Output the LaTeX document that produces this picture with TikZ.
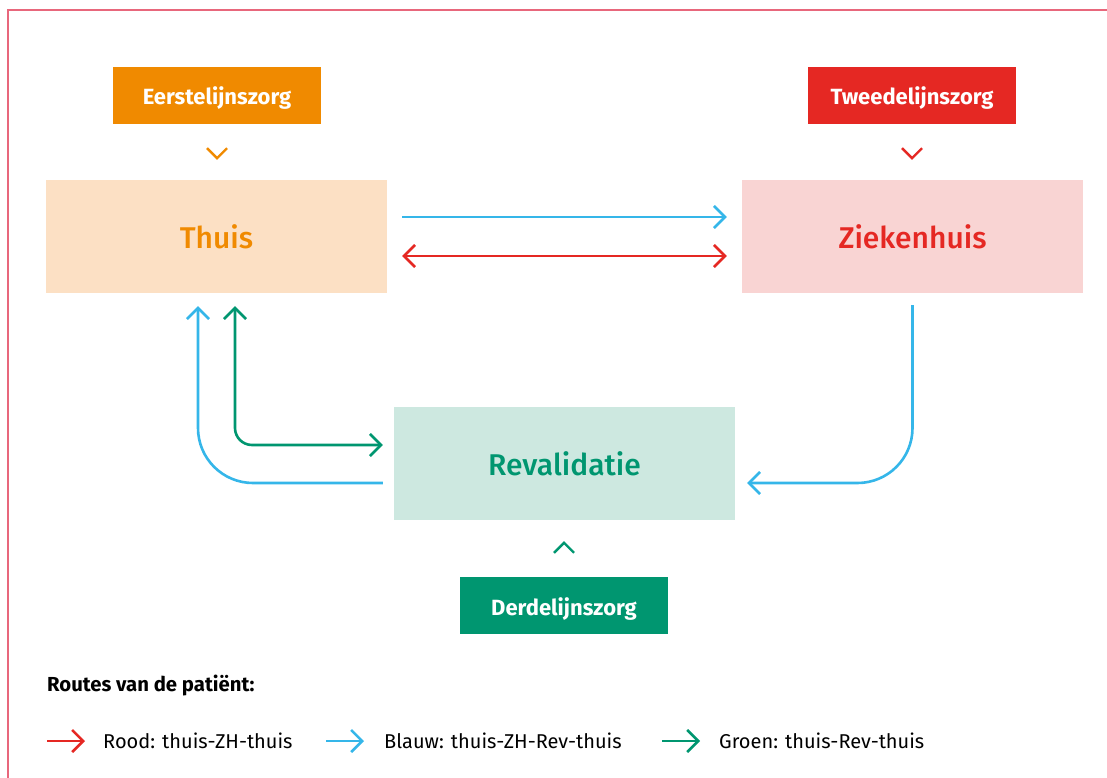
\documentclass[tikz,border=0pt]{standalone}
\usepackage{fontspec}
\setmainfont{Fira Sans}
\newfontfamily\medfont{Fira Sans Medium}
\usetikzlibrary{arrows.meta,calc}
\definecolor{frame}{HTML}{E8677C}
\definecolor{ora}{HTML}{F08A00}
\definecolor{oralight}{HTML}{FCE0C4}
\definecolor{rd}{HTML}{E52823}
\definecolor{rdlight}{HTML}{F9D4D3}
\definecolor{gr}{HTML}{009670}
\definecolor{grlight}{HTML}{CDE8E0}
\definecolor{bl}{HTML}{35B6E9}
\tikzset{
  lbl/.style={minimum width=208pt,minimum height=57pt,inner sep=0pt,text height=22pt,text depth=3pt,text=white,font=\fontsize{22}{24}\selectfont\bfseries},
  place/.style={minimum width=341pt,minimum height=113pt,inner sep=0pt,font=\fontsize{30}{34}\medfont},
  route/.style={line width=2.6pt,-{Straight Barb[length=11pt,width=22pt,line width=2.6pt]}},
  chev/.style={line width=2.4pt},
  legtext/.style={anchor=west,inner sep=0pt,font=\fontsize{20}{23}\selectfont}
}
\begin{document}
\begin{tikzpicture}[x=1pt,y=-1pt]
\useasboundingbox (0,0) rectangle (1107,778);
\draw[frame,line width=1.6pt] (8,778) -- (8,10) -- (1107,10);
% boxes
\node[lbl,fill=ora] (eerste) at (217,95.5) {Eerstelijnszorg};
\node[lbl,fill=rd] (tweede) at (912,95.5) {Tweedelijnszorg};
\node[lbl,fill=gr] (derde) at (564,605.5) {Derdelijnszorg};
\node[place,fill=oralight,text=ora] (thuis) at (216.5,236.5) {Thuis};
\node[place,fill=rdlight,text=rd] (zh) at (912.5,236.5) {Ziekenhuis};
\node[place,fill=grlight,text=gr] (rev) at (564.5,463.5) {Revalidatie};
% chevrons
\draw[chev,ora] ($(eerste.south)+(-10,24)$) -- ++(10,10) -- ++(10,-10);
\draw[chev,rd] ($(tweede.south)+(-10,24)$) -- ++(10,10) -- ++(10,-10);
\draw[chev,gr] ($(derde.north)+(-10,-24)$) -- ++(10,-10) -- ++(10,10);
% horizontal routes
\coordinate (tb) at ($(thuis.east)+(15,-19.5)$);
\coordinate (zb) at ($(zh.west)+(-15,-19.5)$);
\coordinate (tr) at ($(thuis.east)+(15,19.5)$);
\coordinate (zr) at ($(zh.west)+(-15,19.5)$);
\draw[route,bl] (tb) -- (zb);
\draw[route,rd,{Straight Barb[length=11pt,width=22pt,line width=2.6pt]}-{Straight Barb[length=11pt,width=22pt,line width=2.6pt]}] (tr) -- (zr);
% blue: ziekenhuis -> revalidatie
\coordinate (zbot) at ($(zh.south)+(0,12)$);
\coordinate (rin) at ($(rev.east)+(12,19.5)$);
\draw[route,bl,rounded corners=55pt] (zbot) |- (rin);
% blue: revalidatie -> thuis
\coordinate (rout) at ($(rev.west)+(-11,19.5)$);
\coordinate (tbl) at ($(thuis.south)+(-18.5,13)$);
\draw[route,bl,rounded corners=55pt] (rout) -| (tbl);
% green: thuis <-> revalidatie
\coordinate (tgr) at ($(thuis.south)+(18.5,13)$);
\coordinate (rgr) at ($(rev.west)+(-11,-18.5)$);
\draw[route,gr,{Straight Barb[length=11pt,width=22pt,line width=2.6pt]}-{Straight Barb[length=11pt,width=22pt,line width=2.6pt]},rounded corners=17pt] (tgr) |- (rgr);
% legend
\node[anchor=west,inner sep=0pt,font=\fontsize{20.3}{23}\selectfont\bfseries] (legtitle) at (47,686) {Routes van de patiënt:};
\coordinate (l1a) at (47,741); \coordinate (l1b) at (85,741);
\draw[route,rd] (l1a) -- (l1b);
\node[legtext] (l1) at (103,741) {Rood: thuis-ZH-thuis};
\coordinate (l2a) at (326,741); \coordinate (l2b) at (364,741);
\draw[route,bl] (l2a) -- (l2b);
\node[legtext] (l2) at (384,741) {Blauw: thuis-ZH-Rev-thuis};
\coordinate (l3a) at (662,741); \coordinate (l3b) at (700,741);
\draw[route,gr] (l3a) -- (l3b);
\node[legtext] (l3) at (719,741) {Groen: thuis-Rev-thuis};
\end{tikzpicture}
\end{document}
